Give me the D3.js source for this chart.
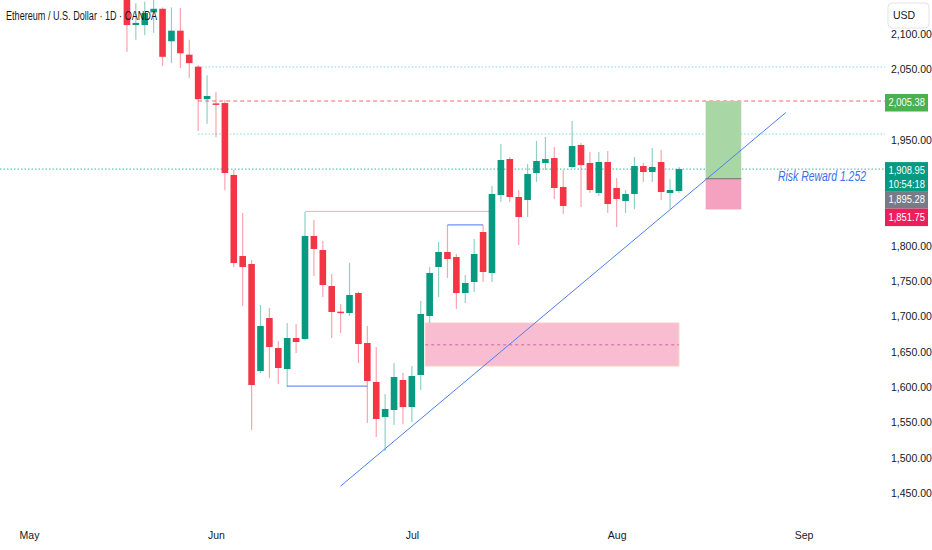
<!DOCTYPE html>
<html>
<head>
<meta charset="utf-8">
<script src="https://cdn.jsdelivr.net/npm/d3@7"></script>
<style>
  body { margin: 0; background: #fff; }
  svg { display: block; font-family: "Liberation Sans", Arial, sans-serif; }
</style>
</head>
<body>
<svg id="chart" width="932" height="550"></svg>
<script>
// daily candles, OANDA ETHUSD (weekdays only)
const dates = [
  "2026-05-18","2026-05-19","2026-05-20","2026-05-21","2026-05-22","2026-05-25","2026-05-26","2026-05-27","2026-05-28","2026-05-29",
  "2026-06-01","2026-06-02","2026-06-03","2026-06-04","2026-06-05","2026-06-08","2026-06-09","2026-06-10","2026-06-11","2026-06-12",
  "2026-06-15","2026-06-16","2026-06-17","2026-06-18","2026-06-19","2026-06-22","2026-06-23","2026-06-24","2026-06-25","2026-06-26",
  "2026-06-29","2026-06-30","2026-07-01","2026-07-02","2026-07-03","2026-07-06","2026-07-07","2026-07-08","2026-07-09","2026-07-10",
  "2026-07-13","2026-07-14","2026-07-15","2026-07-16","2026-07-17","2026-07-20","2026-07-21","2026-07-22","2026-07-23","2026-07-24",
  "2026-07-27","2026-07-28","2026-07-29","2026-07-30","2026-07-31","2026-08-03","2026-08-04","2026-08-05","2026-08-06","2026-08-07",
  "2026-08-10","2026-08-11","2026-08-12"
];
const opens = [
  2160, 2113, 2113, 2131, 2136, 2090, 2105, 2071, 2054, 2008,
  2002, 2002.5, 1900.6, 1785.8, 1774.5, 1622.9, 1698, 1655.5, 1625.8, 1669.7,
  1668.3, 1814.2, 1794.3, 1743.3, 1707, 1705.1, 1733.4, 1662.6, 1607.4, 1557.8,
  1567.7, 1610.2, 1571.9, 1617.3, 1700.9, 1770.3, 1791.5, 1784.4, 1733.4, 1749,
  1819.8, 1761.8, 1872.2, 1923.2, 1869.4, 1865.2, 1903.4, 1917.6, 1924.6, 1883.6,
  1911.9, 1943.1, 1917.6, 1875.1, 1919, 1882.2, 1863.7, 1873.7, 1913.3, 1904.8,
  1919, 1875.1, 1877.9
];
const highs = [
  2175, 2144, 2146, 2152, 2138, 2138, 2137, 2092, 2056, 2042,
  2018, 2006.8, 1907.6, 1846.7, 1780.2, 1716.4, 1712.2, 1665.4, 1690.9, 1689.5,
  1848.2, 1836.8, 1807.1, 1760.3, 1717.8, 1775.9, 1735, 1686.7, 1656.9, 1590.4,
  1634.3, 1620.1, 1630, 1722.1, 1770.3, 1805.7, 1829.7, 1788.7, 1758.9, 1809.9,
  1829.7, 1885, 1944.5, 1926.1, 1879.3, 1916.1, 1948.7, 1954.4, 1940.2, 1907.6,
  1977.1, 1945.9, 1933.1, 1933.1, 1934.6, 1896.3, 1879.3, 1926.1, 1917.6, 1938.8,
  1936, 1894.9, 1911.9
];
const lows = [
  2075, 2092, 2099, 2102, 2055, 2059, 2052, 2038, 1963, 1973,
  1954, 1879, 1770.3, 1715, 1539.4, 1620, 1613, 1604.5, 1600.3, 1648.4,
  1666, 1757.5, 1727.8, 1669.7, 1676.8, 1700.9, 1634.3, 1549.3, 1529.5, 1509.6,
  1546.5, 1547.9, 1550.7, 1596, 1690.9, 1727.8, 1754.7, 1710.8, 1719.3, 1734.8,
  1749, 1749, 1862.3, 1862.3, 1801.4, 1841.1, 1890.6, 1907.6, 1866.6, 1845.3,
  1910, 1855.2, 1875.1, 1870.8, 1846.7, 1826.9, 1846.7, 1852.4, 1890.6, 1890.6,
  1865.2, 1852.4, 1875.1
];
const closes = [
  2113, 2116, 2130, 2136, 2068, 2105, 2073, 2059, 2008, 2012.5,
  2000.5, 1903.4, 1775.9, 1770.3, 1603.1, 1686.7, 1656.9, 1627.2, 1669.7, 1664,
  1814.2, 1795.8, 1744.8, 1706.5, 1706, 1730.6, 1661.2, 1608.8, 1555, 1569.1,
  1614.4, 1571.9, 1615.9, 1703.7, 1761.8, 1791.5, 1781.6, 1733.4, 1747.6, 1788.7,
  1763.2, 1873.7, 1921.8, 1869.4, 1841.1, 1902, 1920.4, 1923.2, 1882.2, 1856.7,
  1941.6, 1914.7, 1879.3, 1919, 1859.5, 1866.6, 1873.7, 1913.3, 1904.8, 1911.9,
  1876.5, 1879.3, 1908.95
];

const monthLabels = ["May", "Jun", "Jul", "Aug", "Sep"];
const monthDates = ["2026-05-01", "2026-06-01", "2026-07-01", "2026-08-03", "2026-09-01"];
const priceTicks = [1450, 1500, 1550, 1600, 1650, 1700, 1750, 1800, 1950, 2050, 2100];

// drawings on the chart
const rayPrices = [2053.5, 1958.6];          // cyan dotted rays
const resistance = 2005.38;                   // red dashed ray
const rayStart = "2026-05-28";
const lastPrice = 1908.95;
const pinkLevel = { from: "2026-06-15", to: "2026-07-14", price: 1849 };
const blueLevels = [
  { from: "2026-06-11", to: "2026-06-24", price: 1601.5 },
  { from: "2026-07-07", to: "2026-07-13", price: 1830 }
];
const trendline = [
  { date: "2026-06-19", price: 1460 },
  { date: "2026-08-28", price: 1989 }
];
const zone = { from: "2026-07-02", to: "2026-08-12", top: 1691, bottom: 1630, mid: 1660 };
const position = { from: "2026-08-17", to: "2026-08-21", entry: 1895.28, target: 2005.38, stop: 1851.75 };
const tags = [
  { price: 2005.38, lines: ["2,005.38"], color: "#4caf50" },
  { price: 1908.95, lines: ["1,908.95", "10:54:18"], color: "#089981" },
  { price: 1895.28, lines: ["1,895.28"], color: "#787b86" },
  { price: 1851.75, lines: ["1,851.75"], color: "#ec1f5b" }
];

const upColor = "#089981", downColor = "#f23645";
const plotRight = 885;

// weekday count since 1 May 2026
function tradingIndex(s) {
  const end = Date.parse(s + "T00:00:00Z");
  let n = 0;
  for (let t = Date.UTC(2026, 4, 1); t < end; t += 864e5) {
    const wd = new Date(t).getUTCDay();
    if (wd !== 0 && wd !== 6) n++;
  }
  return n;
}

const svg = d3.select("#chart");
const x = d3.scaleLinear().domain([0, 87]).range([29, 803.6]);
const y = d3.scaleLinear().domain([1450, 2100]).range([493.1, 34.2]);
const xd = s => x(tradingIndex(s));

svg.append("defs").append("clipPath").attr("id", "plot")
  .append("rect").attr("x", 0).attr("y", 0).attr("width", plotRight).attr("height", 515);

const plot = svg.append("g").attr("clip-path", "url(#plot)");

// horizontal rays
rayPrices.forEach(p => {
  plot.append("line")
    .attr("x1", xd(rayStart)).attr("x2", plotRight)
    .attr("y1", y(p)).attr("y2", y(p))
    .attr("stroke", "#80d8e6").attr("stroke-dasharray", "1.5,2");
});
plot.append("line")
  .attr("x1", xd(rayStart)).attr("x2", plotRight)
  .attr("y1", y(resistance)).attr("y2", y(resistance))
  .attr("stroke", "#f5656f").attr("stroke-dasharray", "4,3");
plot.append("line")
  .attr("x1", 0).attr("x2", plotRight)
  .attr("y1", y(lastPrice)).attr("y2", y(lastPrice))
  .attr("stroke", "#3fb3a3").attr("stroke-dasharray", "1.5,2");

// demand zone
plot.append("rect")
  .attr("x", x(tradingIndex(zone.from) + 0.5))
  .attr("y", y(zone.top))
  .attr("width", xd(zone.to) - x(tradingIndex(zone.from) + 0.5))
  .attr("height", y(zone.bottom) - y(zone.top))
  .attr("fill", "#f8bdd1").attr("stroke", "#fcd3c0").attr("stroke-width", 1);
plot.append("line")
  .attr("x1", x(tradingIndex(zone.from) + 0.5)).attr("x2", xd(zone.to))
  .attr("y1", y(zone.mid)).attr("y2", y(zone.mid))
  .attr("stroke", "#d9619a").attr("stroke-dasharray", "3,3");

// level lines
plot.append("line")
  .attr("x1", xd(pinkLevel.from)).attr("x2", xd(pinkLevel.to))
  .attr("y1", y(pinkLevel.price)).attr("y2", y(pinkLevel.price))
  .attr("stroke", "#f7a9b9").attr("stroke-width", 1);
blueLevels.forEach(l => {
  plot.append("line")
    .attr("x1", xd(l.from)).attr("x2", xd(l.to))
    .attr("y1", y(l.price)).attr("y2", y(l.price))
    .attr("stroke", "#6b93f0").attr("stroke-width", 1.2);
});

// candles
const candles = dates.map((d, i) => ({ d, o: opens[i], h: highs[i], l: lows[i], c: closes[i] }));
const bw = 6.6;
const cg = plot.selectAll("g.candle").data(candles).enter().append("g").attr("class", "candle");
cg.append("line")
  .attr("x1", d => xd(d.d)).attr("x2", d => xd(d.d))
  .attr("y1", d => y(d.h)).attr("y2", d => y(d.l))
  .attr("stroke", d => d.c >= d.o ? upColor : downColor)
  .attr("stroke-opacity", 0.45).attr("stroke-width", 1.2);
cg.append("rect")
  .attr("x", d => xd(d.d) - bw / 2)
  .attr("y", d => y(Math.max(d.o, d.c)))
  .attr("width", bw)
  .attr("height", d => Math.max(1.5, Math.abs(y(d.o) - y(d.c))))
  .attr("fill", d => d.c >= d.o ? upColor : downColor);

// long position box
const px1 = xd(position.from), px2 = xd(position.to);
plot.append("rect")
  .attr("x", px1).attr("y", y(position.target))
  .attr("width", px2 - px1).attr("height", y(position.entry) - y(position.target))
  .attr("fill", "#a8d6a4");
plot.append("rect")
  .attr("x", px1).attr("y", y(position.entry))
  .attr("width", px2 - px1).attr("height", y(position.stop) - y(position.entry))
  .attr("fill", "#f5a2c0");
plot.append("line")
  .attr("x1", px1).attr("x2", px2)
  .attr("y1", y(position.entry)).attr("y2", y(position.entry))
  .attr("stroke", "#6d6f78").attr("stroke-width", 1);

// trend line
plot.append("line")
  .attr("x1", xd(trendline[0].date)).attr("y1", y(trendline[0].price))
  .attr("x2", xd(trendline[1].date)).attr("y2", y(trendline[1].price))
  .attr("stroke", "#4d7ef2").attr("stroke-width", 1);

plot.append("text")
  .attr("x", 778).attr("y", y(lastPrice) + 12)
  .attr("font-size", 14).attr("font-style", "italic")
  .attr("fill", "#3a6ee8")
  .attr("textLength", 88).attr("lengthAdjust", "spacingAndGlyphs")
  .text("Risk Reward 1.252");

// title
svg.append("text")
  .attr("x", 6).attr("y", 20)
  .attr("font-size", 12.5).attr("fill", "#131722")
  .attr("textLength", 151).attr("lengthAdjust", "spacingAndGlyphs")
  .text("Ethereum / U.S. Dollar · 1D · OANDA");

// price axis
const yAxis = d3.axisRight(y).tickValues(priceTicks)
  .tickFormat(d3.format(",.2f")).tickSize(0).tickPadding(6);
const ya = svg.append("g").attr("transform", `translate(${plotRight},0)`).call(yAxis);
ya.select(".domain").remove();
ya.selectAll("text").attr("font-size", 10.5).attr("fill", "#131722")
  .attr("font-family", "Liberation Sans, Arial, sans-serif");

// time axis
const xAxis = d3.axisBottom(x).tickValues(monthDates.map(tradingIndex))
  .tickFormat((d, i) => monthLabels[i]).tickSize(0).tickPadding(0);
const xa = svg.append("g").attr("transform", "translate(0,532)").call(xAxis);
xa.select(".domain").remove();
xa.selectAll("text").attr("font-size", 10.5).attr("fill", "#131722")
  .attr("font-family", "Liberation Sans, Arial, sans-serif");

// currency box
svg.append("rect").attr("x", 888).attr("y", 3).attr("width", 41).attr("height", 25)
  .attr("rx", 4).attr("fill", "#fff").attr("stroke", "#e0e3eb");
svg.append("text").attr("x", 893).attr("y", 19).attr("font-size", 10.5)
  .attr("fill", "#131722").text("USD");

// price tags, stacked downward (one text element per tag)
let prevBottom = -Infinity;
tags.forEach(t => {
  const h = t.lines.length > 1 ? 29 : 17.5;
  const top = Math.max(y(t.price) - 7, prevBottom);
  prevBottom = top + h;
  svg.append("rect").attr("x", plotRight).attr("y", top)
    .attr("width", 43).attr("height", h).attr("fill", t.color);
  const txt = svg.append("text").attr("font-size", 10).attr("fill", "#fff");
  t.lines.forEach((s, k) => {
    txt.append("tspan").attr("x", plotRight + 3.5).attr("y", top + 12 + k * 13.5)
      .attr("textLength", 36.5).attr("lengthAdjust", "spacingAndGlyphs")
      .text(s);
  });
});
</script>
</body>
</html>
